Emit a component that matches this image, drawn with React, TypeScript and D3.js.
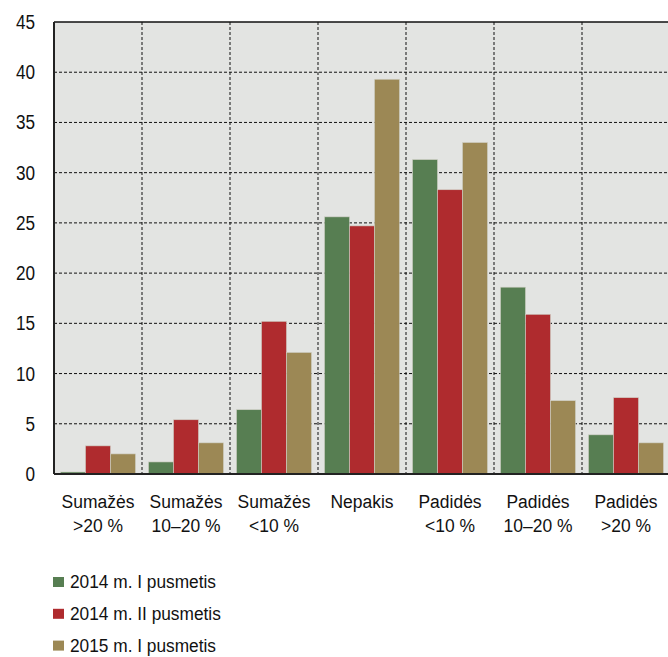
import React from "react";
import * as d3 from "d3";

const categories = [
  ["Sumažės", ">20 %"],
  ["Sumažės", "10–20 %"],
  ["Sumažės", "<10 %"],
  ["Nepakis", ""],
  ["Padidės", "<10 %"],
  ["Padidės", "10–20 %"],
  ["Padidės", ">20 %"],
];
const seriesNames = ["2014 m. I pusmetis", "2014 m. II pusmetis", "2015 m. I pusmetis"];
const s2014I = [0.2, 1.2, 6.4, 25.6, 31.3, 18.6, 3.9];
const s2014II = [2.8, 5.4, 15.2, 24.7, 28.3, 15.9, 7.6];
const s2015I = [2.0, 3.1, 12.1, 39.3, 33.0, 7.3, 3.1];
const colors = ["#577E52", "#AF2B2E", "#9C8855"];
const yTicks = [0, 5, 10, 15, 20, 25, 30, 35, 40, 45];

const FONT = "'Liberation Sans', Arial, sans-serif";

function T({ x, y, anchor = "start", size = 19, sx = 0.92, children }: any) {
  return (
    <g transform={`translate(${x},${y}) scale(${sx},1)`}>
      <text x={0} y={0} textAnchor={anchor} fontSize={size} fill="#111">{children}</text>
    </g>
  );
}

export default function App() {
  const W = 668, H = 657;
  const left = 54, top = 22, bottom = 474, right = 670;
  const series = [s2014I, s2014II, s2015I];
  const x = d3.scaleBand<number>().domain(d3.range(categories.length)).range([left, right]).paddingInner(0).paddingOuter(0);
  const inner = d3.scaleBand<number>().domain([0, 1, 2]).range([0, x.bandwidth()]).paddingOuter(0.26).paddingInner(0);
  const y = d3.scaleLinear().domain([0, 45]).range([bottom, top]);

  return (
    <svg width={W} height={H} style={{ position: "absolute", left: 0, top: 0 }} fontFamily={FONT}>
      <rect x={0} y={0} width={W} height={H} fill="#fff" />
      <rect x={left} y={top} width={right - left} height={bottom - top} fill="#E3E4E2" />
      {yTicks.filter(t => t > 0 && t < 45).map(t => (
        <line key={"h" + t} x1={left} x2={right} y1={y(t)} y2={y(t)} stroke="#111" strokeWidth={1} strokeDasharray="3,2" />
      ))}
      {d3.range(1, categories.length).map(i => (
        <line key={"v" + i} x1={x(i)!} x2={x(i)!} y1={top} y2={bottom} stroke="#111" strokeWidth={1} strokeDasharray="3,2" />
      ))}
      {series.map((s, si) =>
        s.map((v, ci) => (
          <rect key={si + "-" + ci} x={x(ci)! + inner(si)!} width={inner.bandwidth()} y={y(v)} height={bottom - y(v)}
            fill={colors[si]} stroke="#cfcfc5" strokeWidth={0.6} />
        ))
      )}
      <line x1={left} x2={right} y1={top} y2={top} stroke="#111" strokeWidth={1.5} />
      <line x1={left} x2={left} y1={top} y2={bottom} stroke="#222" strokeWidth={2} />
      <line x1={left} x2={right} y1={bottom} y2={bottom} stroke="#222" strokeWidth={2} />
      {yTicks.map(t => (
        <T key={"t" + t} x={35} y={y(t) + 7} anchor="end" size={19.5} sx={0.88}>{t}</T>
      ))}
      {categories.map((c, i) => (
        <g key={"c" + i}>
          <T x={x(i)! + x.bandwidth() / 2} y={508} anchor="middle">{c[0]}</T>
          {c[1] && <T x={x(i)! + x.bandwidth() / 2} y={532} anchor="middle">{c[1]}</T>}
        </g>
      ))}
      {seriesNames.map((n, i) => (
        <g key={"l" + i}>
          <rect x={53} y={577 + i * 31.8} width={11} height={10} fill={colors[i]} />
          <T x={70} y={588 + i * 32} sx={0.91}>{n}</T>
        </g>
      ))}
    </svg>
  );
}
